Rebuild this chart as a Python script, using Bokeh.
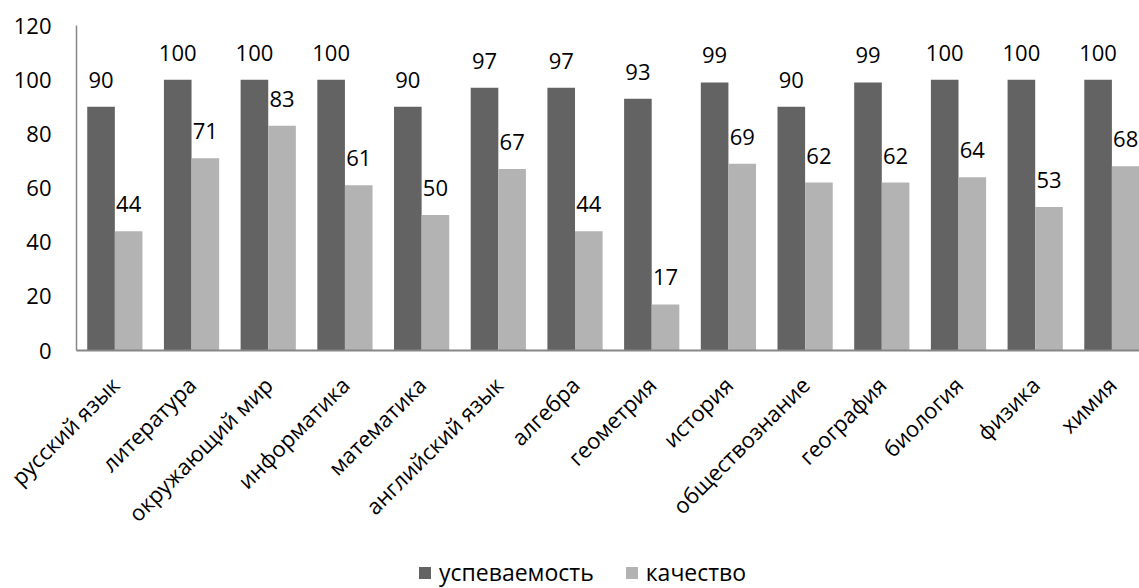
import numpy as np
from bokeh.plotting import figure
from bokeh.models import ColumnDataSource, FixedTicker, Legend, LegendItem, Range1d
from bokeh.transform import dodge
from bokeh.core.properties import value
from bokeh.embed import file_html
from bokeh.resources import INLINE

categories = ["русский язык", "литература", "окружающий мир", "информатика", "математика",
              "английский язык", "алгебра", "геометрия", "история", "обществознание",
              "география", "биология", "физика", "химия"]
uspevaemost = [90, 100, 100, 100, 90, 97, 97, 93, 99, 90, 99, 100, 100, 100]
kachestvo = [44, 71, 83, 61, 50, 67, 44, 17, 69, 62, 62, 64, 53, 68]
series_names = ["успеваемость", "качество"]
y_ticks = [0, 20, 40, 60, 80, 100, 120]

FONT = "Open Sans"
FS = "22px"
DARK = "#636363"
LIGHT = "#b3b3b3"

# The frame fills the whole canvas; the axes sit at fixed data locations inside it
PX_X = 76.7            # pixels per category
PX_Y = 325 / 120       # pixels per value unit
X_MIN, X_MAX = -76 / PX_X, 13.86
Y_MIN, Y_MAX = -238 / PX_Y, 120 + 25 / PX_Y

x = np.arange(len(categories)) + 0.5
src = ColumnDataSource(dict(x=x, u=uspevaemost, k=kachestvo,
                            ul=[str(v) for v in uspevaemost], kl=[str(v) for v in kachestvo]))

p = figure(width=1139, height=588, output_backend="svg", toolbar_location=None,
           x_range=Range1d(X_MIN, X_MAX), y_range=Range1d(Y_MIN, Y_MAX),
           min_border_left=0, min_border_top=0, min_border_right=0, min_border_bottom=0)
p.outline_line_color = None
p.grid.grid_line_color = None

r1 = p.vbar(x=dodge("x", -0.18, range=p.x_range), top="u", width=0.36, source=src,
            fill_color=DARK, line_color=None)
r2 = p.vbar(x=dodge("x", 0.18, range=p.x_range), top="k", width=0.36, source=src,
            fill_color=LIGHT, line_color=None)

for col, lab, off in (("u", "ul", -0.18), ("k", "kl", 0.18)):
    p.text(x=dodge("x", off, range=p.x_range), y=col, text=lab, source=src,
           text_align="center", text_baseline="alphabetic", y_offset=-27,
           text_font=value(FONT), text_font_size=FS, text_color="#000000")

p.yaxis.fixed_location = 0
p.yaxis.ticker = FixedTicker(ticks=y_ticks)
p.yaxis.bounds = (0, 120)
p.yaxis.major_tick_line_color = None
p.yaxis.minor_tick_line_color = None
p.yaxis.major_tick_out = 0
p.yaxis.major_label_standoff = 25
p.yaxis.axis_line_color = "#868686"
p.yaxis.axis_line_width = 1.5
p.yaxis.major_label_text_font = FONT
p.yaxis.major_label_text_font_size = FS
p.yaxis.major_label_text_color = "#000000"

p.xaxis.fixed_location = 0
p.xaxis.bounds = (0, X_MAX)
p.xaxis.ticker = FixedTicker(ticks=list(x))
p.xaxis.major_label_overrides = {float(xx): c for xx, c in zip(x, categories)}
p.xaxis.major_label_orientation = np.pi / 4
p.xaxis.major_tick_line_color = None
p.xaxis.minor_tick_line_color = None
p.xaxis.major_tick_out = 0
p.xaxis.major_label_standoff = 30
p.xaxis.axis_line_color = "#868686"
p.xaxis.axis_line_width = 2
p.xaxis.major_label_text_font = FONT
p.xaxis.major_label_text_font_size = FS
p.xaxis.major_label_text_color = "#000000"

legend = Legend(items=[LegendItem(label=series_names[0], renderers=[r1]),
                       LegendItem(label=series_names[1], renderers=[r2])],
                orientation="horizontal", location=(417, 0),
                border_line_color=None, background_fill_alpha=0,
                glyph_width=15, glyph_height=15, label_text_font=FONT,
                label_text_font_size="23px", label_text_color="#000000",
                spacing=30, margin=0, padding=2, label_standoff=7)
p.add_layout(legend, "center")

open("out.html", "w").write(file_html(p, INLINE))
